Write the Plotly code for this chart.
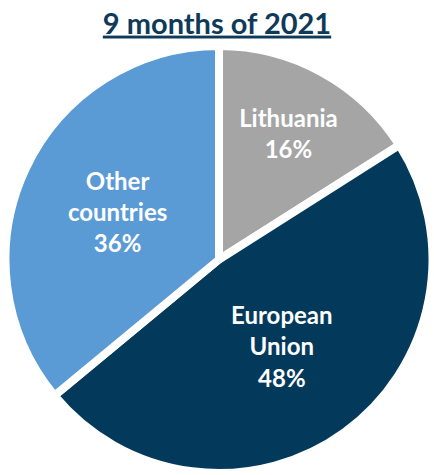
import plotly.graph_objects as go

# Shares by destination, 9 months of 2021
regions = ["Lithuania", "European<br>Union", "Other<br>countries"]
shares = [16, 48, 36]
colors = ["#A5A5A5", "#033A5B", "#5B9BD5"]

title_text = "9 months of 2021"

fig = go.Figure(
    go.Pie(
        labels=regions,
        values=shares,
        sort=False,
        direction="clockwise",
        rotation=0,
        marker=dict(colors=colors, line=dict(color="white", width=8)),
        texttemplate="<b>%{label}<br>%{value}%</b>",
        textposition="inside",
        insidetextorientation="horizontal",
        textfont=dict(family="Lato", size=24, color="white"),
        hoverinfo="label+percent",
        showlegend=False,
        domain=dict(x=[0, 1], y=[0, 1]),
    )
)

fig.update_layout(
    width=434,
    height=475,
    margin=dict(l=4, r=0, t=46, b=2),
    paper_bgcolor="white",
    plot_bgcolor="white",
    title=dict(
        text=f"<b><u>{title_text}</u></b>",
        x=0.5,
        xanchor="center",
        y=0.972,
        yanchor="top",
        font=dict(family="Lato", size=29, color="#0E3A5A"),
    ),
)

fig.write_html("out.html")
